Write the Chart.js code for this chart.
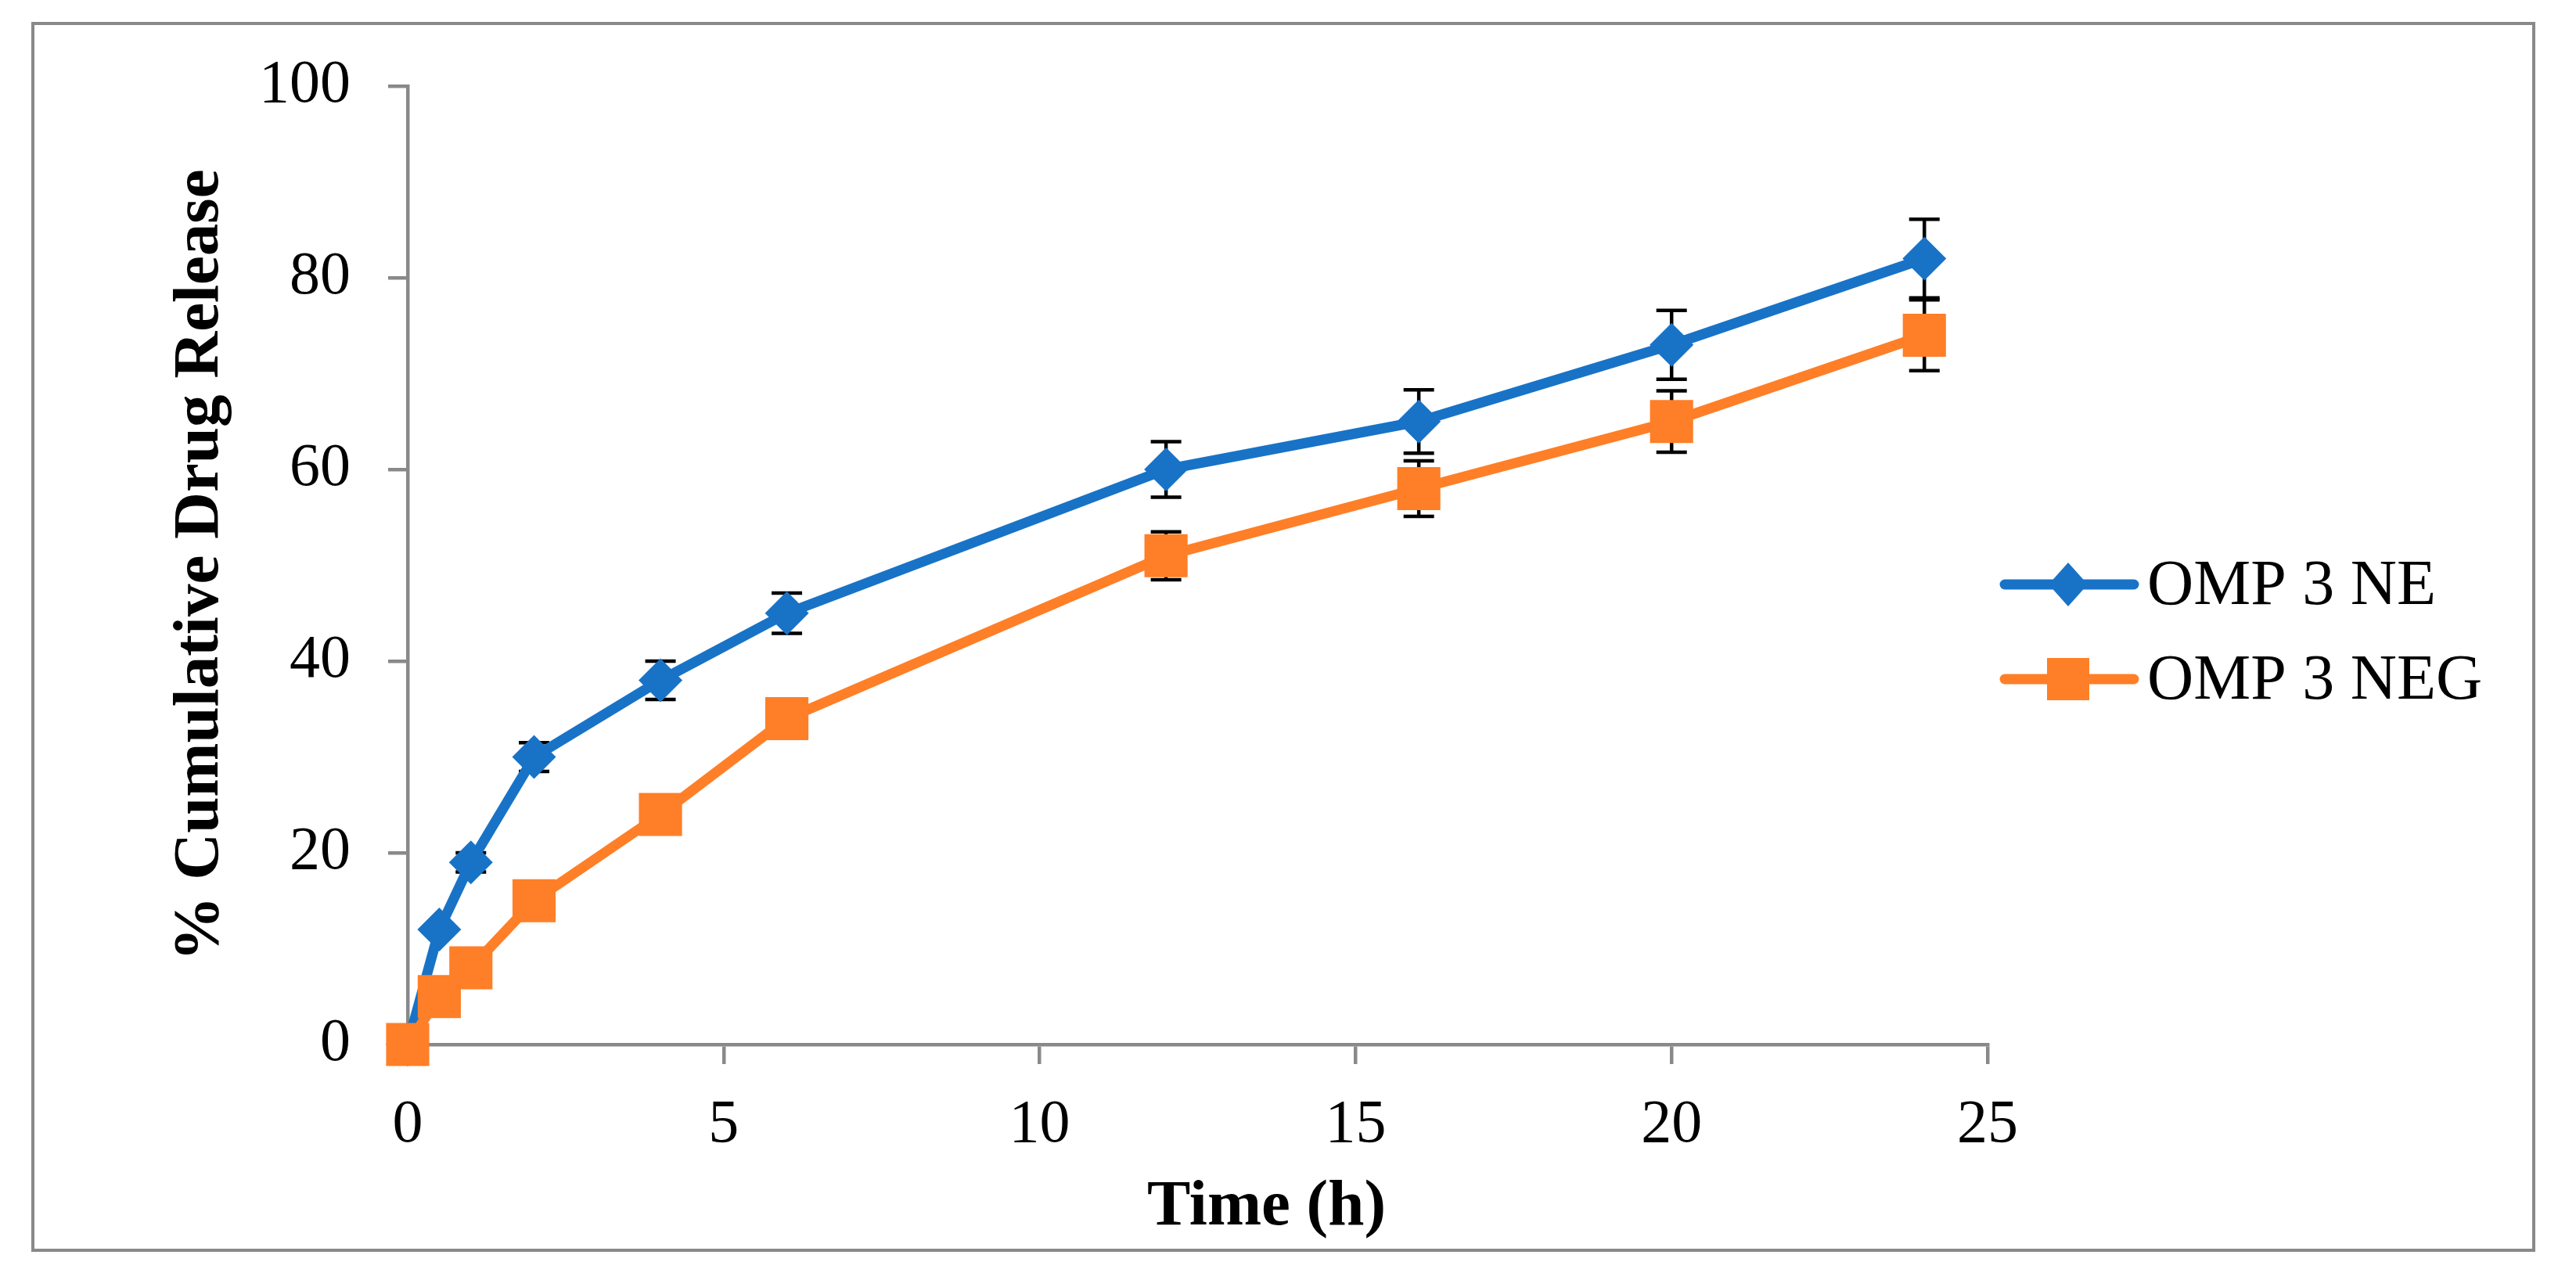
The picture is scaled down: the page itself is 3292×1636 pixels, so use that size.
<!DOCTYPE html>
<html><head><meta charset="utf-8">
<script src="https://cdn.jsdelivr.net/npm/chart.js@4.4.1/dist/chart.umd.min.js"></script>
<style>html,body{margin:0;padding:0;background:#fff;overflow:hidden}#wrap{position:relative;width:3292px;height:1636px}</style>
</head><body><div id="wrap"><canvas id="c"></canvas></div>
<script>
const timeH = [0, 0.5, 1, 2, 4, 6, 12, 16, 20, 24];
const releaseNE = [0, 12, 19, 30, 38, 45, 60, 65, 73, 82];
const errNE = [0, 0.5, 1, 1.5, 2, 2.1, 2.9, 3.3, 3.6, 4.1];
const releaseNEG = [0, 5, 8, 15, 24, 34, 51, 58, 65, 74];
const errNEG = [0, 0.5, 0.8, 1, 1, 1.2, 2.5, 2.9, 3.2, 3.7];
const seriesNames = ['OMP 3 NE', 'OMP 3 NEG'];
const xTickValues = [0, 5, 10, 15, 20, 25];
const yTickValues = [0, 20, 40, 60, 80, 100];
const xTitle = 'Time (h)';
const yTitle = '% Cumulative Drug Release';

const BLUE = '#1873C7';
const ORANGE = '#FE7F27';
const GRAY = '#898989';
const SERIF = "'Liberation Serif', 'Times New Roman', serif";

const frame = {
  id: 'frame',
  beforeDraw(chart) {
    const ctx = chart.ctx;
    ctx.save();
    ctx.fillStyle = '#fff';
    ctx.fillRect(0, 0, chart.width, chart.height);
    ctx.strokeStyle = GRAY;
    ctx.lineWidth = 4;
    ctx.strokeRect(42, 30, 3196, 1568);
    ctx.restore();
  }
};

const errorBars = {
  id: 'errorBars',
  beforeDatasetDraw(chart, args) {
    const ds = chart.data.datasets[args.index];
    if (!ds.errors) return;
    const ctx = chart.ctx, ys = chart.scales.y;
    ctx.save();
    ctx.strokeStyle = '#000';
    ctx.lineWidth = 4.5;
    args.meta.data.forEach((pt, i) => {
      const e = ds.errors[i];
      if (!e) return;
      const v = ds.data[i].y;
      const yt = ys.getPixelForValue(v + e), yb = ys.getPixelForValue(v - e);
      const x = pt.x, hw = 19.5;
      ctx.beginPath();
      ctx.moveTo(x, yt); ctx.lineTo(x, yb);
      ctx.moveTo(x - hw, yt); ctx.lineTo(x + hw, yt);
      ctx.moveTo(x - hw, yb); ctx.lineTo(x + hw, yb);
      ctx.stroke();
    });
    ctx.restore();
  }
};

const customLegend = {
  id: 'customLegend',
  afterDraw(chart) {
    const ctx = chart.ctx;
    const rows = [747, 868];
    chart.data.datasets.forEach((ds, i) => {
      const y = rows[i];
      ctx.save();
      ctx.strokeStyle = ds.borderColor;
      ctx.lineWidth = 13;
      ctx.lineCap = 'round';
      ctx.beginPath();
      ctx.moveTo(2562, y); ctx.lineTo(2727, y);
      ctx.stroke();
      ctx.fillStyle = ds.backgroundColor;
      ctx.beginPath();
      const cx = 2643;
      if (ds.pointStyle === 'rectRot') {
        ctx.moveTo(cx - 25, y); ctx.lineTo(cx, y - 28); ctx.lineTo(cx + 25, y); ctx.lineTo(cx, y + 28);
        ctx.closePath();
      } else {
        ctx.rect(cx - 27, y - 27, 54, 54);
      }
      ctx.fill();
      ctx.fillStyle = '#000';
      ctx.font = '82px ' + SERIF;
      ctx.textBaseline = 'middle';
      ctx.textAlign = 'left';
      ctx.fillText(ds.label, 2744, y + 3);
      ctx.restore();
    });
  }
};

const tickFont = { family: SERIF, size: 78 };
const titleFont = { family: SERIF, size: 83, weight: 'bold' };

function shiftTitle(scale, dx) {
  if (scale._titleShifted) return;
  const orig = scale.drawTitle;
  scale.drawTitle = function () {
    this.ctx.save();
    this.ctx.translate(dx, 0);
    orig.call(this);
    this.ctx.restore();
  };
  scale._titleShifted = true;
}

new Chart(document.getElementById('c'), {
  type: 'line',
  data: {
    datasets: [
      {
        label: seriesNames[0],
        data: timeH.map((t, i) => ({ x: t, y: releaseNE[i] })),
        errors: errNE,
        borderColor: BLUE, backgroundColor: BLUE,
        borderWidth: 13, pointStyle: 'rectRot', pointRadius: 28, pointHoverRadius: 28,
        pointBorderWidth: 0, borderJoinStyle: 'round', tension: 0, clip: false, order: 1
      },
      {
        label: seriesNames[1],
        data: timeH.map((t, i) => ({ x: t, y: releaseNEG[i] })),
        errors: errNEG,
        borderColor: ORANGE, backgroundColor: ORANGE,
        borderWidth: 13, pointStyle: 'rect', pointRadius: 39, pointHoverRadius: 39,
        pointBorderWidth: 0, borderJoinStyle: 'round', tension: 0, clip: false, order: 0
      }
    ]
  },
  options: {
    responsive: true,
    maintainAspectRatio: false,
    devicePixelRatio: 1,
    animation: false,
    events: [],
    layout: { padding: { left: 0, top: 110, right: 752, bottom: 0 } },
    plugins: { legend: { display: false }, tooltip: { enabled: false } },
    scales: {
      x: {
        type: 'linear', min: 0, max: 25,
        afterBuildTicks: s => { s.ticks = xTickValues.map(v => ({ value: v })); },
        afterFit: s => { s.height = 301; shiftTitle(s, 88); },
        ticks: { font: tickFont, color: '#000', padding: 32, maxRotation: 0 },
        grid: { display: true, drawOnChartArea: false, drawTicks: true, tickLength: 25, color: GRAY, lineWidth: 4.5 },
        border: { display: true, color: GRAY, width: 4.5 },
        title: { display: true, text: xTitle, font: titleFont, color: '#000', padding: { top: 0, bottom: 43 } }
      },
      y: {
        type: 'linear', min: 0, max: 100,
        afterBuildTicks: s => { s.ticks = yTickValues.map(v => ({ value: v })); },
        afterFit: s => { s.width = 521; },
        ticks: { font: tickFont, color: '#000', padding: 48 },
        grid: { display: true, drawOnChartArea: false, drawTicks: true, tickLength: 25, color: GRAY, lineWidth: 4.5 },
        border: { display: true, color: GRAY, width: 4.5 },
        title: { display: true, text: yTitle, font: titleFont, color: '#000', padding: { top: 207, bottom: 0 } }
      }
    }
  },
  plugins: [frame, errorBars, customLegend]
});
</script>
</body></html>
